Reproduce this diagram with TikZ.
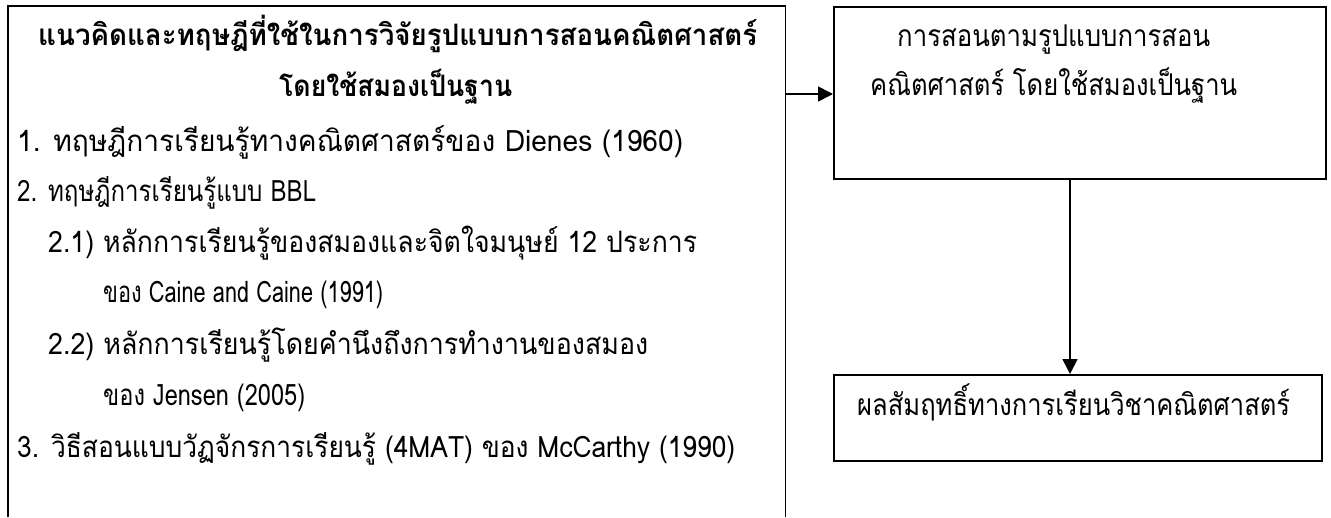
\documentclass[tikz,border=0pt]{standalone}
\usepackage{graphicx}
\usepackage{fontspec}
\setmainfont[Script=Thai]{Loma}
\usetikzlibrary{arrows.meta}
\newcommand{\fitw}[2]{\resizebox{#1}{\height}{#2}}
\tikzset{
  boxline/.style={line width=1.6pt, draw=black},
  txt/.style={inner sep=0pt, anchor=base west, font=\fontsize{29.5}{34}\selectfont},
  rtxt/.style={inner sep=0pt, anchor=base west, font=\fontsize{30}{34}\selectfont},
  btxt/.style={inner sep=0pt, anchor=base west, font=\fontsize{29.5}{34}\selectfont\bfseries},
  arr/.style={line width=1.7pt, -{Triangle[length=15pt,width=15pt]}}
}
\begin{document}
\begin{tikzpicture}[x=1pt,y=-1pt]
\useasboundingbox (0,0) rectangle (1331,517);
% left box (open at bottom)
\node[minimum width=777pt, minimum height=511pt, inner sep=0pt, anchor=north west] (L) at (8,6) {};
\draw[boxline] (L.south west) -- (L.north west) -- (L.north east) -- (L.south east);
% right top box
\node[boxline, minimum width=492pt, minimum height=172pt, inner sep=0pt, anchor=north west] (R) at (833,6) {};
% bottom right box
\node[boxline, minimum width=488pt, minimum height=86pt, inner sep=0pt, anchor=north west] (B) at (833,374) {};
% texts left
\node[btxt] (t1) at (38,45.5) {\fitw{719pt}{แนวคิดและทฤษฎีที่ใช้ในการวิจัยรูปแบบการสอนคณิตศาสตร์}};
\node[btxt] (t2) at (279,96.5) {\fitw{233pt}{โดยใช้สมองเป็นฐาน}};
\node[txt] (i1) at (17,151.5) {\fitw{666pt}{1. ทฤษฎีการเรียนรู้ทางคณิตศาสตร์ของ Dienes (1960)}};
\node[txt] (i2) at (17,201.5) {\fitw{299pt}{2. ทฤษฎีการเรียนรู้แบบ BBL}};
\node[txt] (i21) at (48,252.5) {\fitw{649pt}{2.1) หลักการเรียนรู้ของสมองและจิตใจมนุษย์ 12 ประการ}};
\node[txt] (i21b) at (103,302.5) {\fitw{280pt}{ของ Caine and Caine (1991)}};
\node[txt] (i22) at (48,354.5) {\fitw{600pt}{2.2) หลักการเรียนรู้โดยคำนึงถึงการทำงานของสมอง}};
\node[txt] (i22b) at (103,405.5) {\fitw{202pt}{ของ Jensen (2005)}};
\node[txt] (i3) at (17,457.5) {\fitw{718pt}{3. วิธีสอนแบบวัฏจักรการเรียนรู้ (4MAT) ของ McCarthy (1990)}};
% right texts
\node[rtxt] (r1) at (897,46.5) {\fitw{313pt}{การสอนตามรูปแบบการสอน}};
\node[rtxt] (r2) at (870,95) {\fitw{367pt}{คณิตศาสตร์ โดยใช้สมองเป็นฐาน}};
\node[rtxt] (b1) at (857,415.5) {\fitw{433pt}{ผลสัมฤทธิ์ทางการเรียนวิชาคณิตศาสตร์}};
% connectors
\draw[arr] (L.north east |- 0,94) -- (R.west |- 0,94);
\draw[arr] (R.south -| 1070,0) -- (B.north -| 1070,0);
\end{tikzpicture}
\end{document}
